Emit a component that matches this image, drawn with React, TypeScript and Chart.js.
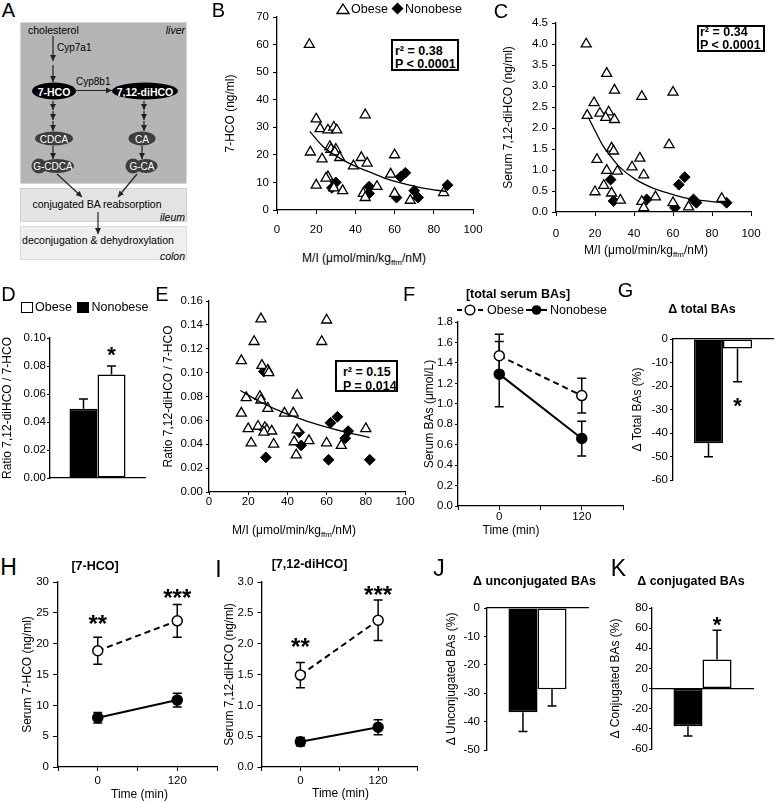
import React, { useEffect, useRef } from 'react';
import { Chart, registerables } from 'chart.js';

Chart.register(...registerables);

const FONT = '"Liberation Sans", Arial, Helvetica, sans-serif';
Chart.defaults.font.family = FONT;
Chart.defaults.font.size = 12;
Chart.defaults.color = '#000';

type Pt = [number, number];

// ---------------- DATA ----------------
// Panel B: serum 7-HCO (ng/ml) vs M/I
const bObese: Pt[] = [
  [16.5, 60], [20, 33], [22, 29.5], [26, 29], [29, 30], [30.5, 29], [45, 34.5],
  [17, 21], [27, 23], [27.5, 22], [30, 22], [29.5, 21], [32, 19], [23, 18.5],
  [39, 16], [43, 19], [46, 17], [60, 20], [58, 13], [20, 9], [26, 12], [25, 11.5],
  [29, 8], [33.5, 7], [44, 6], [45, 4.5], [51, 8.5], [60, 6], [68, 3.5], [85, 6.3],
];
const bNonobese: Pt[] = [
  [30, 10], [28, 8], [47, 8.5], [47, 6], [63, 12], [65.5, 13.5], [61, 4.5], [70, 7], [72, 4.5], [87, 9],
];
const bFit: Pt[] = [
  [16.7, 28.5], [23.5, 23], [32, 18.8], [40.5, 15.7], [49, 13.3], [57.5, 10.9], [66, 9.3], [74.5, 7.9], [86.4, 6.7],
];

// Panel C: serum 7,12-diHCO (ng/ml) vs M/I
const cObese: Pt[] = [
  [15.5, 4.0], [26, 3.3], [30, 2.9], [44, 2.75], [60, 2.85], [19.5, 2.6], [22.5, 2.35], [27, 2.38],
  [25.5, 2.25], [30, 2.2], [16, 2.3], [28.5, 1.52], [29.5, 1.45], [58, 1.6], [21, 1.25], [43, 1.28],
  [39, 1.07], [31.5, 0.97], [26, 0.99], [45, 0.88], [24.5, 0.63], [20, 0.48], [28.5, 0.45], [33, 0.28],
  [44, 0.25], [45, 0.1], [51, 0.36], [60, 0.22], [68, 0.12], [85, 0.32],
];
const cNonobese: Pt[] = [
  [28, 0.77], [29.5, 0.26], [46.5, 0.3], [63, 0.65], [66, 0.83], [61, 0.1], [70.5, 0.3], [72, 0.22], [87.5, 0.22],
];
const cFit: Pt[] = [
  [16.6, 2.25], [20.3, 1.91], [23.8, 1.6], [28.1, 1.32], [32.4, 1.08], [41, 0.77], [49.7, 0.57],
  [58.3, 0.44], [66.9, 0.33], [75.5, 0.27], [87.6, 0.21],
];

// Panel E: ratio 7,12-diHCO / 7-HCO vs M/I
const eObese: Pt[] = [
  [26.5, 0.145], [60, 0.144], [23, 0.126], [57.5, 0.126], [16.5, 0.11], [27, 0.106], [30, 0.102], [30.5, 0.1],
  [26, 0.08], [26.5, 0.077], [19, 0.079], [45, 0.081], [30, 0.07], [16.5, 0.066], [38.5, 0.066], [43, 0.066],
  [20, 0.053], [25, 0.055], [28.5, 0.054], [29.5, 0.052], [32, 0.051], [28, 0.05], [45, 0.052], [21.5, 0.041],
  [33, 0.04], [43.5, 0.042], [51, 0.043], [60, 0.041], [44.5, 0.031], [67.5, 0.039], [80, 0.053],
];
const eNonobese: Pt[] = [
  [28, 0.101], [29, 0.029], [47, 0.039], [46, 0.05], [62, 0.058], [65.5, 0.063], [61, 0.027], [69.5, 0.045], [71, 0.051], [82, 0.027],
];
const eFit: Pt[] = [[16, 0.085], [26.7, 0.075], [38.7, 0.066], [50.6, 0.059], [64.2, 0.0525], [82, 0.0455]];

// Bar panels (order: Nonobese, Obese)
const groups = ['Nonobese', 'Obese'];
const dMeans = [0.0495, 0.074];
const dErrors = [0.007, 0.006];
const gMeans = [-44.4, -4.0];
const gErrors = [5.7, 14.2];
const jMeans = [-36.7, -28.6];
const jErrors = [6.8, 5.9];
const kMeans = [-37.4, 28.8];
const kErrors = [9.6, 29];

// Time course panels
const timePoints = [0, 120];
const fObese = [1.47, 1.08];
const fObeseErr = [0.21, 0.17];
const fNonobese = [1.29, 0.66];
const fNonobeseErr = [0.32, 0.17];
const hObese = [18.85, 23.7];
const hObeseErr = [2.2, 2.65];
const hNonobese = [8.0, 10.85];
const hNonobeseErr = [0.85, 1.1];
const iObese = [1.49, 2.38];
const iObeseErr = [0.205, 0.33];
const iNonobese = [0.41, 0.645];
const iNonobeseErr = [0.07, 0.12];

// Significance marks
type Star = { x?: number; ds?: number; y: number; text: string };
const dStars: Star[] = [{ ds: 1, y: 0.092, text: '*' }];
const gStars: Star[] = [{ ds: 1, y: -26, text: '*' }];
const kStars: Star[] = [{ ds: 1, y: 69, text: '*' }];
const hStars: Star[] = [{ x: 0, y: 24.1, text: '**' }, { x: 120, y: 28.4, text: '***' }];
const iStars: Star[] = [{ x: 0, y: 2.05, text: '**' }, { x: 120, y: 2.88, text: '***' }];

// Statistics text
const statsB = ['r\u00B2 = 0.38', 'P < 0.0001'];
const statsC = ['r\u00B2 = 0.34', 'P < 0.0001'];
const statsE = ['r\u00B2 = 0.15', 'P = 0.014'];

// ---------------- LAYOUT ----------------
const GEO: Record<string, { L: number; T: number; R: number; B: number; tx: number }> = {
  B: { L: 277, T: 17, R: 473, B: 210, tx: 231 },
  C: { L: 556, T: 23, R: 751, B: 212, tx: 509 },
  D: { L: 50, T: 338, R: 145, B: 478, tx: 8 },
  E: { L: 209, T: 301, R: 405, B: 492, tx: 169 },
  F: { L: 458, T: 322, R: 623, B: 506, tx: 430 },
  G: { L: 673, T: 339, R: 773, B: 480, tx: 638 },
  H: { L: 58, T: 582, R: 217, B: 767, tx: 28 },
  I: { L: 261, T: 582, R: 417, B: 767, tx: 229.5 },
  J: { L: 487, T: 608, R: 588, B: 750, tx: 452 },
  K: { L: 652, T: 608, R: 753, B: 749, tx: 616 },
};
const MT = 18;
const MR = 28;
const BLACK = '#000';
const TICK_SIZE = 11.5;

// ---------------- PLUGINS ----------------
function drawErrors(chart: any, bars: boolean) {
  const ctx = chart.ctx;
  const ys = chart.scales.y;
  chart.data.datasets.forEach((ds: any, i: number) => {
    const errs = ds.errors;
    if (!errs) return;
    const meta = chart.getDatasetMeta(i);
    if ((meta.type === 'bar') !== bars) return;
    ctx.save();
    ctx.strokeStyle = BLACK;
    ctx.lineWidth = 1.5;
    meta.data.forEach((el: any, j: number) => {
      const raw = ds.data[j];
      const v = typeof raw === 'number' ? raw : raw.y;
      const e = errs[j];
      const x = el.x;
      const half = 4.5;
      ctx.beginPath();
      if (bars) {
        const yEnd = ys.getPixelForValue(v >= 0 ? v + e : v - e);
        ctx.moveTo(x, ys.getPixelForValue(v));
        ctx.lineTo(x, yEnd);
        ctx.moveTo(x - half, yEnd);
        ctx.lineTo(x + half, yEnd);
      } else {
        const y1 = ys.getPixelForValue(v + e);
        const y2 = ys.getPixelForValue(v - e);
        ctx.moveTo(x, y1);
        ctx.lineTo(x, y2);
        ctx.moveTo(x - half, y1);
        ctx.lineTo(x + half, y1);
        ctx.moveTo(x - half, y2);
        ctx.lineTo(x + half, y2);
      }
      ctx.stroke();
    });
    ctx.restore();
  });
}

function extras(stars: Star[], size: number) {
  return {
    id: 'extras',
    beforeDatasetsDraw(chart: any) {
      drawErrors(chart, false);
    },
    afterDatasetsDraw(chart: any) {
      drawErrors(chart, true);
      const ctx = chart.ctx;
      const xs = chart.scales.x;
      const ys = chart.scales.y;
      ctx.save();
      ctx.font = `bold ${size}px ${FONT}`;
      ctx.fillStyle = BLACK;
      ctx.textAlign = 'center';
      ctx.textBaseline = 'alphabetic';
      stars.forEach((s) => {
        const px = s.ds !== undefined ? chart.getDatasetMeta(s.ds).data[0].x : xs.getPixelForValue(s.x);
        const py = ys.getPixelForValue(s.y) + size * 0.58;
        ctx.fillText(s.text, px, py);
      });
      ctx.restore();
    },
  };
}

// ---------------- SCALE / CONFIG BUILDERS ----------------
type YSpec = { min: number; max: number; step: number; dec: number; title: string; tl: number; pad: number };

function yScale(ml: number, y: YSpec) {
  return {
    type: 'linear',
    min: y.min,
    max: y.max,
    afterFit: (s: any) => {
      s.width = ml;
    },
    ticks: {
      stepSize: y.step,
      padding: y.pad,
      autoSkip: false,
      font: { size: TICK_SIZE },
      callback: (v: any) => Number(v).toFixed(y.dec),
    },
    grid: { drawOnChartArea: false, drawTicks: true, tickLength: y.tl, color: BLACK, lineWidth: 1 },
    border: { display: true, color: BLACK, width: 1.3 },
    title: { display: true, text: y.title, color: BLACK, font: { size: 12 }, padding: { top: 1.8, bottom: 0 } },
  };
}

function xLinear(min: number, max: number, step: number, tl: number, pad: number, mb: number, cb?: (v: number) => string) {
  return {
    type: 'linear',
    min,
    max,
    afterFit: (s: any) => {
      s.height = mb;
    },
    ticks: {
      stepSize: step,
      padding: pad,
      autoSkip: false,
      maxRotation: 0,
      font: { size: TICK_SIZE },
      callback: cb || ((v: any) => String(v)),
    },
    grid: { drawOnChartArea: false, drawTicks: true, tickLength: tl, color: BLACK, lineWidth: 1 },
    border: { display: true, color: BLACK, width: 1.3 },
  };
}

function baseOptions(padBottom: number, scales: any) {
  return {
    responsive: false,
    animation: false,
    events: [],
    layout: { padding: { left: 0, top: MT, right: MR, bottom: padBottom } },
    plugins: { legend: { display: false }, tooltip: { enabled: false }, title: { display: false } },
    scales,
  };
}

const toXY = (pts: Pt[]) => pts.map(([x, y]) => ({ x, y }));

function scatterCfg(obese: Pt[], non: Pt[], fit: Pt[], y: YSpec, xtl: number, xpad: number) {
  return (ml: number, mb: number) => ({
    type: 'scatter',
    data: {
      datasets: [
        {
          label: 'fit',
          data: toXY(fit),
          showLine: true,
          pointRadius: 0,
          borderColor: BLACK,
          borderWidth: 1.3,
          cubicInterpolationMode: 'monotone',
          fill: false,
          order: 0,
        },
        {
          label: 'Obese',
          data: toXY(obese),
          pointStyle: 'triangle',
          pointRadius: 5.8,
          pointBackgroundColor: '#fff',
          pointBorderColor: BLACK,
          pointBorderWidth: 1.3,
          order: 1,
        },
        {
          label: 'Nonobese',
          data: toXY(non),
          pointStyle: 'rectRot',
          pointRadius: 5.4,
          pointBackgroundColor: BLACK,
          pointBorderColor: BLACK,
          pointBorderWidth: 1,
          order: 2,
        },
      ],
    },
    options: baseOptions(0, { x: xLinear(0, 100, 20, xtl, xpad, mb), y: yScale(ml, y) }),
  });
}

function timeCfg(obese: number[], obeseErr: number[], non: number[], nonErr: number[], y: YSpec, stars: Star[], xpad: number) {
  return (ml: number, mb: number) => ({
    type: 'line',
    data: {
      datasets: [
        {
          label: 'Obese',
          data: timePoints.map((t, i) => ({ x: t, y: obese[i] })),
          errors: obeseErr,
          borderColor: BLACK,
          borderWidth: 2,
          borderDash: [6, 4],
          pointStyle: 'circle',
          pointRadius: 5,
          pointBackgroundColor: '#fff',
          pointBorderColor: BLACK,
          pointBorderWidth: 1.5,
          order: 0,
        },
        {
          label: 'Nonobese',
          data: timePoints.map((t, i) => ({ x: t, y: non[i] })),
          errors: nonErr,
          borderColor: BLACK,
          borderWidth: 2,
          pointStyle: 'circle',
          pointRadius: 5,
          pointBackgroundColor: BLACK,
          pointBorderColor: BLACK,
          pointBorderWidth: 1.5,
          order: 1,
        },
      ],
    },
    options: baseOptions(0, {
      x: xLinear(-60, 180, 60, 4, xpad, mb, (v: number) => (v === 0 || v === 120 ? String(v) : '')),
      y: yScale(ml, y),
    }),
    plugins: [extras(stars, 24)],
  });
}

function barCfg(means: number[], errors: number[], y: YSpec, stars: Star[], catPct: number, positional: boolean) {
  return (ml: number, mb: number) => ({
    type: 'bar',
    data: {
      labels: [''],
      datasets: [
        {
          label: groups[0],
          data: [means[0]],
          errors: [errors[0]],
          backgroundColor: BLACK,
          borderColor: BLACK,
          borderWidth: 1.5,
          borderSkipped: false,
          barPercentage: 1,
          categoryPercentage: catPct,
        },
        {
          label: groups[1],
          data: [means[1]],
          errors: [errors[1]],
          backgroundColor: '#fff',
          borderColor: BLACK,
          borderWidth: 1.5,
          borderSkipped: false,
          barPercentage: 1,
          categoryPercentage: catPct,
        },
      ],
    },
    options: baseOptions(positional ? mb : 0, {
      x: positional
        ? {
            type: 'category',
            position: { y: 0 },
            ticks: { display: false },
            grid: { display: false },
            border: { display: true, color: BLACK, width: 1.3 },
          }
        : {
            type: 'category',
            afterFit: (s: any) => {
              s.height = mb;
            },
            ticks: { display: false },
            grid: { display: false },
            border: { display: true, color: BLACK, width: 1.3 },
          },
      y: yScale(ml, y),
    }),
    plugins: [extras(stars, 22)],
  });
}

// ---------------- COMPONENTS ----------------
function ChartCanvas({ g, mb, make }: { g: { L: number; T: number; R: number; B: number; tx: number }; mb: number; make: (ml: number, mb: number) => any }) {
  const ref = useRef<HTMLCanvasElement>(null);
  const left = g.tx - 9;
  const top = g.T - MT;
  const width = g.R - left + MR;
  const height = g.B - top + mb;
  useEffect(() => {
    const chart = new Chart(ref.current as HTMLCanvasElement, make(g.L - left, mb));
    return () => chart.destroy();
  }, []);
  return (
    <canvas
      ref={ref}
      width={width}
      height={height}
      style={{ position: 'absolute', left, top, width, height }}
    />
  );
}

function Txt({
  x, y, size = 12, bold = false, italic = false, align = 'center', children,
}: { x: number; y: number; size?: number; bold?: boolean; italic?: boolean; align?: 'left' | 'center' | 'right'; children: any }) {
  const tx = align === 'center' ? '-50%' : align === 'right' ? '-100%' : '0';
  return (
    <div
      style={{
        position: 'absolute',
        left: x,
        top: y,
        transform: `translate(${tx}, -50%)`,
        fontSize: size,
        fontWeight: bold ? 'bold' : 'normal',
        fontStyle: italic ? 'italic' : 'normal',
        lineHeight: 1,
        whiteSpace: 'nowrap',
        fontFamily: FONT,
        color: '#000',
      }}
    >
      {children}
    </div>
  );
}

const Sub = ({ children }: { children: any }) => (
  <span style={{ fontSize: 8, position: 'relative', top: 3 }}>{children}</span>
);

function MiTitle({ x, y }: { x: number; y: number }) {
  return (
    <Txt x={x} y={y}>
      M/I (μmol/min/kg<Sub>ffm</Sub>/nM)
    </Txt>
  );
}

function StatBox({ x, y, w, h, lines, tx, ly }: { x: number; y: number; w: number; h: number; lines: string[]; tx: number; ly: number[] }) {
  return (
    <>
      <div
        style={{
          position: 'absolute',
          left: x,
          top: y,
          width: w,
          height: h,
          boxSizing: 'border-box',
          border: '2px solid #000',
          background: '#fff',
        }}
      />
      {lines.map((l, i) => (
        <Txt key={i} x={tx} y={ly[i]} size={12.5} bold align="left">
          {l}
        </Txt>
      ))}
    </>
  );
}

function PanelA() {
  const stroke = '#222';
  const arr = (x1: number, y1: number, x2: number, y2: number, k: string) => (
    <line key={k} x1={x1} y1={y1} x2={x2} y2={y2} stroke={stroke} strokeWidth={1.2} markerEnd="url(#ah)" />
  );
  return (
    <svg width={200} height={270} style={{ position: 'absolute', left: 0, top: 0 }} fontFamily={FONT}>
      <defs>
        <marker id="ah" markerWidth="6" markerHeight="6" refX="6" refY="3" orient="auto" markerUnits="userSpaceOnUse">
          <path d="M0,0 L6,3 L0,6 z" fill={stroke} />
        </marker>
      </defs>
      <rect x={20.5} y={22.5} width={166} height={161} fill="#b5b5b5" stroke="#d6d6d6" strokeWidth={1} />
      <rect x={20.5} y={188.5} width={166} height={33} fill="#e3e3e3" stroke="#d0d0d0" strokeWidth={1} />
      <rect x={20.5} y={226.5} width={166} height={33} fill="#efefef" stroke="#dcdcdc" strokeWidth={1} />

      <text x={28} y={30} fontSize={10.5} dominantBaseline="central">cholesterol</text>
      <text x={185} y={30} fontSize={10.5} fontStyle="italic" textAnchor="end" dominantBaseline="central">liver</text>
      <text x={57} y={47} fontSize={10} dominantBaseline="central">Cyp7a1</text>
      <text x={76} y={81} fontSize={10} dominantBaseline="central">Cyp8b1</text>

      {arr(53, 36, 53, 61, 'a1')}
      {arr(53, 65, 53, 82, 'a2')}
      {arr(76, 90.5, 112, 90.5, 'a3')}
      {arr(53, 101, 53, 110, 'a4')}
      {arr(53, 111, 53, 120, 'a5')}
      {arr(53, 121, 53, 131, 'a6')}
      {arr(144, 101, 144, 110, 'a7')}
      {arr(144, 111, 144, 120, 'a8')}
      {arr(144, 121, 144, 131, 'a9')}
      {arr(53, 146, 53, 159, 'a10')}
      {arr(142, 146, 142, 159, 'a11')}
      {arr(57, 174, 82, 197, 'a12')}
      {arr(137, 174, 118, 197, 'a13')}
      {arr(98, 212, 98, 234, 'a14')}

      <ellipse cx={54} cy={91} rx={22} ry={8.5} fill="#000" />
      <text x={54} y={91.5} fontSize={10.5} fontWeight="bold" fill="#fff" textAnchor="middle" dominantBaseline="central">7-HCO</text>
      <ellipse cx={145} cy={91} rx={33} ry={8.5} fill="#000" />
      <text x={145} y={91.5} fontSize={10.5} fontWeight="bold" fill="#fff" textAnchor="middle" dominantBaseline="central">7,12-diHCO</text>

      <ellipse cx={54} cy={138.5} rx={19} ry={7} fill="#3d3d3d" />
      <text x={54} y={139} fontSize={10} fill="#fff" textAnchor="middle" dominantBaseline="central">CDCA</text>
      <ellipse cx={142} cy={138.5} rx={13.5} ry={7} fill="#3d3d3d" />
      <text x={142} y={139} fontSize={10} fill="#fff" textAnchor="middle" dominantBaseline="central">CA</text>

      <ellipse cx={57} cy={166} rx={17} ry={7} fill="#3d3d3d" />
      <circle cx={39} cy={166} r={7.5} fill="#3d3d3d" />
      <text x={53} y={166.5} fontSize={10} fill="#fff" textAnchor="middle" dominantBaseline="central">G-CDCA</text>
      <ellipse cx={146} cy={166} rx={11.5} ry={7} fill="#3d3d3d" />
      <circle cx={133} cy={166} r={7.5} fill="#3d3d3d" />
      <text x={142} y={166.5} fontSize={10} fill="#fff" textAnchor="middle" dominantBaseline="central">G-CA</text>

      <text x={97} y={204} fontSize={10.5} textAnchor="middle" dominantBaseline="central">conjugated BA reabsorption</text>
      <text x={185} y={217} fontSize={10.5} fontStyle="italic" textAnchor="end" dominantBaseline="central">ileum</text>
      <text x={98} y={240} fontSize={10.5} textAnchor="middle" dominantBaseline="central">deconjugation &amp; dehydroxylation</text>
      <text x={185} y={256} fontSize={10.5} fontStyle="italic" textAnchor="end" dominantBaseline="central">colon</text>
    </svg>
  );
}

// ---------------- APP ----------------
export default function App() {
  const ySpecB: YSpec = { min: 0, max: 70, step: 10, dec: 0, title: '7-HCO (ng/ml)', tl: 4, pad: 4 };
  const ySpecC: YSpec = { min: 0, max: 4.5, step: 0.5, dec: 1, title: 'Serum 7,12-diHCO (ng/ml)', tl: 4, pad: 4 };
  const ySpecE: YSpec = { min: 0, max: 0.16, step: 0.02, dec: 2, title: 'Ratio 7,12-diHCO / 7-HCO', tl: 3, pad: 3 };
  const ySpecD: YSpec = { min: 0, max: 0.1, step: 0.02, dec: 2, title: 'Ratio 7,12-diHCO / 7-HCO', tl: 3, pad: 1 };
  const ySpecF: YSpec = { min: 0, max: 1.8, step: 0.2, dec: 1, title: 'Serum BAs (μmol/L)', tl: 3, pad: 2 };
  const ySpecG: YSpec = { min: -60, max: 0, step: 10, dec: 0, title: 'Δ Total BAs (%)', tl: 3, pad: 2 };
  const ySpecH: YSpec = { min: 0, max: 30, step: 5, dec: 0, title: 'Serum 7-HCO (ng/ml)', tl: 5, pad: 4 };
  const ySpecI: YSpec = { min: 0, max: 3, step: 0.5, dec: 1, title: 'Serum 7,12-diHCO (ng/ml)', tl: 4, pad: 4 };
  const ySpecJ: YSpec = { min: -50, max: 0, step: 10, dec: 0, title: 'Δ Unconjugated BAs (%)', tl: 3, pad: 4 };
  const ySpecK: YSpec = { min: -60, max: 80, step: 20, dec: 0, title: 'Δ Conjugated BAs (%)', tl: 3, pad: 1 };

  return (
    <div
      style={{
        position: 'absolute',
        left: 0,
        top: 0,
        width: 777,
        height: 802,
        overflow: 'hidden',
        background: '#fff',
        fontFamily: FONT,
        color: '#000',
      }}
    >
      <PanelA />

      <ChartCanvas g={GEO.B} mb={34} make={scatterCfg(bObese, bNonobese, bFit, ySpecB, 4, 9)} />
      <ChartCanvas g={GEO.C} mb={34} make={scatterCfg(cObese, cNonobese, cFit, ySpecC, 4, 11)} />
      <ChartCanvas g={GEO.E} mb={30} make={scatterCfg(eObese, eNonobese, eFit, ySpecE, 3, 0)} />
      <ChartCanvas g={GEO.D} mb={12} make={barCfg(dMeans, dErrors, ySpecD, dStars, 0.59, false)} />
      <ChartCanvas g={GEO.G} mb={14} make={barCfg(gMeans, gErrors, ySpecG, gStars, 0.58, true)} />
      <ChartCanvas g={GEO.J} mb={14} make={barCfg(jMeans, jErrors, ySpecJ, [], 0.575, true)} />
      <ChartCanvas g={GEO.K} mb={14} make={barCfg(kMeans, kErrors, ySpecK, kStars, 0.575, true)} />
      <ChartCanvas g={GEO.F} mb={30} make={timeCfg(fObese, fObeseErr, fNonobese, fNonobeseErr, ySpecF, [], 0)} />
      <ChartCanvas g={GEO.H} mb={30} make={timeCfg(hObese, hObeseErr, hNonobese, hNonobeseErr, ySpecH, hStars, 3)} />
      <ChartCanvas g={GEO.I} mb={30} make={timeCfg(iObese, iObeseErr, iNonobese, iNonobeseErr, ySpecI, iStars, 3)} />

      {/* panel letters */}
      <Txt x={8.5} y={10} size={20}>A</Txt>
      <Txt x={218.5} y={10} size={20}>B</Txt>
      <Txt x={501} y={11} size={20}>C</Txt>
      <Txt x={8.5} y={294} size={20}>D</Txt>
      <Txt x={162} y={294} size={20}>E</Txt>
      <Txt x={409} y={293.5} size={20}>F</Txt>
      <Txt x={625.5} y={290} size={20}>G</Txt>
      <Txt x={8.5} y={566.5} size={23}>H</Txt>
      <Txt x={218.5} y={568.5} size={23}>I</Txt>
      <Txt x={439} y={567.5} size={23}>J</Txt>
      <Txt x={618.5} y={567.5} size={23}>K</Txt>

      {/* legend B */}
      <svg width={14} height={12} style={{ position: 'absolute', left: 336, top: 3 }}>
        <polygon points="7,1 13,10.5 1,10.5" fill="#fff" stroke="#000" strokeWidth={1.3} />
      </svg>
      <Txt x={351} y={8.5} size={12.5} align="left">Obese</Txt>
      <svg width={13} height={13} style={{ position: 'absolute', left: 391, top: 2 }}>
        <polygon points="6.5,0.5 12.5,6.5 6.5,12.5 0.5,6.5" fill="#000" />
      </svg>
      <Txt x={405} y={8.5} size={12.5} align="left">Nonobese</Txt>

      {/* legend D */}
      <div style={{ position: 'absolute', left: 21, top: 301.5, width: 12, height: 11, boxSizing: 'border-box', border: '1.3px solid #000', background: '#fff' }} />
      <Txt x={35} y={307} size={12.5} align="left">Obese</Txt>
      <div style={{ position: 'absolute', left: 77, top: 301.5, width: 12, height: 11, background: '#000' }} />
      <Txt x={91.5} y={307} size={12.5} align="left">Nonobese</Txt>

      {/* legend F */}
      <svg width={160} height={14} style={{ position: 'absolute', left: 455, top: 303 }}>
        <line x1={2} y1={7} x2={7} y2={7} stroke="#000" strokeWidth={2} />
        <line x1={23} y1={7} x2={28} y2={7} stroke="#000" strokeWidth={2} />
        <circle cx={15} cy={7} r={4.8} fill="#fff" stroke="#000" strokeWidth={1.5} />
        <line x1={71} y1={7} x2={92} y2={7} stroke="#000" strokeWidth={2} />
        <circle cx={81.5} cy={7} r={4.8} fill="#000" />
      </svg>
      <Txt x={487} y={310} size={12.5} align="left">Obese</Txt>
      <Txt x={550} y={310} size={12.5} align="left">Nonobese</Txt>

      {/* stat boxes */}
      <StatBox x={391} y={39} w={68} h={32} lines={statsB} tx={395} ly={[51, 64]} />
      <StatBox x={697} y={25} w={68} h={27} lines={statsC} tx={700} ly={[31.5, 44.5]} />
      <StatBox x={335} y={360} w={63} h={32} lines={statsE} tx={343} ly={[372, 386]} />

      {/* panel titles */}
      <Txt x={518} y={294} size={12.5} bold>[total serum BAs]</Txt>
      <Txt x={702} y={309} size={12.5} bold>Δ total BAs</Txt>
      <Txt x={95} y={565.5} size={12.5} bold>[7-HCO]</Txt>
      <Txt x={309.5} y={563.5} size={12.5} bold>[7,12-diHCO]</Txt>
      <Txt x={534.5} y={581} size={12.5} bold>Δ unconjugated BAs</Txt>
      <Txt x={691} y={580.5} size={12.5} bold>Δ conjugated BAs</Txt>

      {/* x-axis titles */}
      <MiTitle x={364} y={258} />
      <MiTitle x={646} y={250} />
      <MiTitle x={294} y={530} />
      <Txt x={511} y={530}>Time (min)</Txt>
      <Txt x={139.5} y={793.5}>Time (min)</Txt>
      <Txt x={340.5} y={792.5}>Time (min)</Txt>
    </div>
  );
}
